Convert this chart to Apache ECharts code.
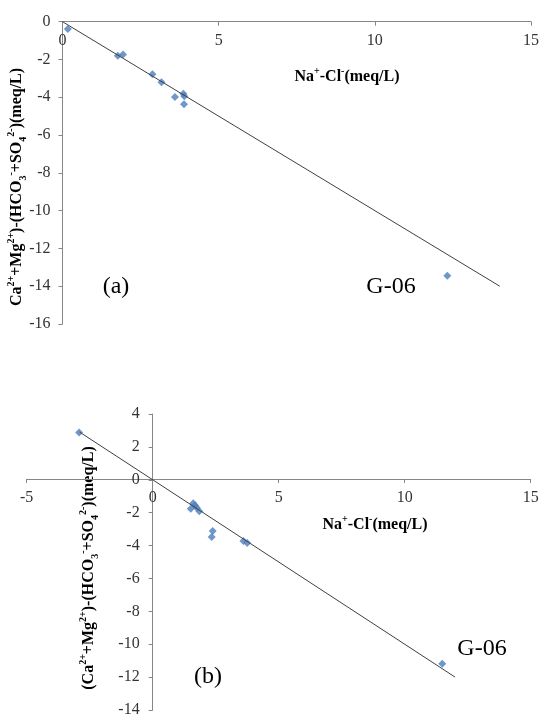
<!DOCTYPE html>
<html><head><meta charset="utf-8">
<script src="https://cdn.jsdelivr.net/npm/echarts@6/dist/echarts.min.js"></script>
<style>html,body{margin:0;padding:0;background:#fff}#c{width:542px;height:718px}</style>
</head><body><div id="c"></div><script>
// Chart (a)
const aPointsX = [0.17, 1.77, 1.94, 2.88, 3.17, 3.60, 3.87, 3.90, 3.89, 12.32];
const aPointsY = [-0.39, -1.80, -1.73, -2.78, -3.21, -3.98, -3.81, -3.95, -4.37, -13.44];
const aLineX = [0, 14];
const aLineY = [0, -14];
// Chart (b)
const bPointsX = [-2.92, 1.51, 1.61, 1.68, 1.75, 1.85, 2.38, 2.34, 3.60, 3.75, 11.49];
const bPointsY = [2.88, -1.76, -1.42, -1.56, -1.70, -1.92, -3.11, -3.48, -3.72, -3.84, -11.19];
const bLineX = [-2.9, 12];
const bLineY = [2.9, -12];
// Axis ranges
const aX = {min: 0, max: 15, interval: 5};
const aY = {min: -16, max: 0, interval: 2};
const bX = {min: -5, max: 15, interval: 5};
const bY = {min: -14, max: 4, interval: 2};
// Texts
const xName = '{n|Na}{p|+}{n|-Cl}{p|-}{n|(meq/L)}';
const aYName = '{n|Ca}{p|2+}{n|+Mg}{p|2+}{n|)-(HCO}{b|3}{p|-}{n|+SO}{b|4}{p|2-}{n|)(meq/L)}';
const bYName = '{n|(Ca}{p|2+}{n|+Mg}{p|2+}{n|)-(HCO}{b|3}{p|-}{n|+SO}{b|4}{p|2-}{n|)(meq/L)}';
const aTag = '(a)', bTag = '(b)', outlier = 'G-06';

const serif = "'Liberation Serif','Times New Roman',serif";
const zip = (xs, ys) => xs.map((x, i) => [x, ys[i]]);
const gridA = {left: 62.5, top: 21.7, width: 471.5, height: 302.3};
const gridB = {left: 26.7, top: 414, width: 504, height: 297};
// offset of the zero line from the grid edge, derived from the axis ranges
const zeroFromBottom = (r, g) => (0 - r.min) / (r.max - r.min) * g.height;
const zeroFromLeft = (r, g) => (0 - r.min) / (r.max - r.min) * g.width;

const rich = {
  n: {fontFamily: serif, fontSize: 16, fontWeight: 'bold', color: '#000', lineHeight: 22, verticalAlign: 'middle'},
  p: {fontFamily: serif, fontSize: 10, fontWeight: 'bold', color: '#000', verticalAlign: 'top'},
  b: {fontFamily: serif, fontSize: 10, fontWeight: 'bold', color: '#000', verticalAlign: 'bottom'}
};
const axisCommon = {
  type: 'value',
  axisLine: {onZero: false, lineStyle: {color: '#868686', width: 1}},
  axisTick: {show: true, length: 4, lineStyle: {color: '#868686'}},
  axisLabel: {fontFamily: serif, fontSize: 16, color: '#333', margin: 11},
  splitLine: {show: false}
};
const chart = echarts.init(document.getElementById('c'), null, {renderer: 'canvas'});
chart.setOption({
  animation: false,
  backgroundColor: '#fff',
  grid: [gridA, gridB],
  xAxis: [
    Object.assign({}, axisCommon, aX, {gridIndex: 0, position: 'bottom', offset: -zeroFromBottom(aY, gridA)}),
    Object.assign({}, axisCommon, bX, {gridIndex: 1, position: 'bottom', offset: -zeroFromBottom(bY, gridB)})
  ],
  yAxis: [
    Object.assign({}, axisCommon, aY, {gridIndex: 0, position: 'left', offset: -zeroFromLeft(aX, gridA), axisLabel: Object.assign({}, axisCommon.axisLabel, {margin: 12})}),
    Object.assign({}, axisCommon, bY, {gridIndex: 1, position: 'left', offset: -zeroFromLeft(bX, gridB), axisLabel: Object.assign({}, axisCommon.axisLabel, {margin: 13})})
  ],
  series: [
    {type: 'line', xAxisIndex: 0, yAxisIndex: 0, data: zip(aLineX, aLineY), symbol: 'none', lineStyle: {color: '#404040', width: 1}},
    {type: 'scatter', xAxisIndex: 0, yAxisIndex: 0, data: zip(aPointsX, aPointsY), symbol: 'diamond', symbolSize: 8, itemStyle: {color: '#4A7EBB'}},
    {type: 'line', xAxisIndex: 1, yAxisIndex: 1, data: zip(bLineX, bLineY), symbol: 'none', lineStyle: {color: '#404040', width: 1}},
    {type: 'scatter', xAxisIndex: 1, yAxisIndex: 1, data: zip(bPointsX, bPointsY), symbol: 'diamond', symbolSize: 8, itemStyle: {color: '#4A7EBB'}}
  ],
  graphic: [
    {type: 'text', x: 347, y: 77, style: {text: xName, rich: rich, align: 'center', verticalAlign: 'middle', textAlign: 'center', textVerticalAlign: 'middle'}},
    {type: 'text', x: 375, y: 525, style: {text: xName, rich: rich, align: 'center', verticalAlign: 'middle', textAlign: 'center', textVerticalAlign: 'middle'}},
    {type: 'text', x: 17, y: 187, rotation: Math.PI / 2, style: {text: aYName, rich: rich, align: 'center', verticalAlign: 'middle', textAlign: 'center', textVerticalAlign: 'middle'}},
    {type: 'text', x: 89, y: 568, rotation: Math.PI / 2, style: {text: bYName, rich: rich, align: 'center', verticalAlign: 'middle', textAlign: 'center', textVerticalAlign: 'middle'}},
    {type: 'text', x: 116, y: 287, style: {text: aTag, font: "24px 'Liberation Serif', serif", fill: '#000', align: 'center', verticalAlign: 'middle', textAlign: 'center', textVerticalAlign: 'middle'}},
    {type: 'text', x: 391, y: 287, style: {text: outlier, font: "24px 'Liberation Serif', serif", fill: '#000', align: 'center', verticalAlign: 'middle', textAlign: 'center', textVerticalAlign: 'middle'}},
    {type: 'text', x: 208, y: 677, style: {text: bTag, font: "24px 'Liberation Serif', serif", fill: '#000', align: 'center', verticalAlign: 'middle', textAlign: 'center', textVerticalAlign: 'middle'}},
    {type: 'text', x: 482, y: 649, style: {text: outlier, font: "24px 'Liberation Serif', serif", fill: '#000', align: 'center', verticalAlign: 'middle', textAlign: 'center', textVerticalAlign: 'middle'}}
  ]
});
</script></body></html>
